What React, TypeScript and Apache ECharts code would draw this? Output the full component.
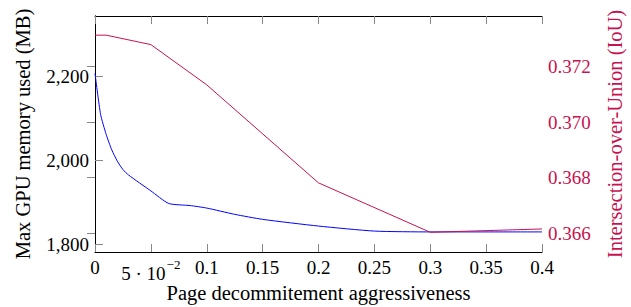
import React, { useEffect, useRef } from "react";
import * as echarts from "echarts";

const xTicks = [0, 0.05, 0.1, 0.15, 0.2, 0.25, 0.3, 0.35, 0.4];
const memTicks = [1800, 2000, 2200];
const iouTicks = [0.366, 0.368, 0.37, 0.372];

const memX = [0, 0.005, 0.01, 0.015, 0.02, 0.025, 0.03, 0.05, 0.066, 0.085, 0.1, 0.125, 0.15, 0.2, 0.25, 0.3, 0.4];
const memY = [2208, 2110, 2062, 2025, 1998, 1978, 1965, 1927, 1897, 1892, 1886, 1871, 1859, 1843, 1831, 1829, 1829];

const iouX = [0, 0.01, 0.05, 0.1, 0.2, 0.3, 0.4];
const iouY = [0.37313, 0.37313, 0.37279, 0.37134, 0.36781, 0.36603, 0.36615];

const RED = "#C8124F";
const FONT = "'Liberation Serif', serif";

export default function App() {
  const ref = useRef<HTMLDivElement>(null);
  useEffect(() => {
    document.body.style.margin = "0";
    const chart = echarts.init(ref.current!, null, { renderer: "svg" });
    const fmtX = (v: number) => {
      if (Math.abs(v - 0.05) < 1e-9) return "{d|5 · 10}{s|−2}";
      return String(Math.round(v * 100) / 100);
    };
    chart.setOption({
      animation: false,
      textStyle: { fontFamily: FONT },
      grid: { left: 95, right: 89, top: 16, bottom: 55, containLabel: false, outerBoundsMode: "none" },
      xAxis: [
        {
          type: "value",
          min: 0,
          max: 0.4,
          interval: 0.05,
          position: "bottom",
          name: "Page decommitement aggressiveness",
          nameLocation: "middle",
          nameGap: 30,
          nameMoveOverlap: false,
          nameTextStyle: { fontFamily: FONT, fontSize: 20.5, color: "#000" },
          axisLine: { show: true, lineStyle: { color: "#000", width: 1 } },
          axisTick: { show: true, inside: true, length: 8, lineStyle: { color: "#888" } },
          splitLine: { show: false },
          axisLabel: {
            formatter: fmtX,
            fontFamily: FONT,
            fontSize: 19,
            color: "#000",
            margin: 6,
            rich: {
              d: { fontFamily: FONT, fontSize: 19, color: "#000", padding: [6, 0, 0, 0] },
              s: { fontFamily: FONT, fontSize: 13, color: "#000", verticalAlign: "top", padding: [0, 0, 0, 1] },
            },
          },
        },
        {
          type: "value",
          min: 0,
          max: 0.4,
          interval: 0.05,
          position: "top",
          axisLine: { show: true, lineStyle: { color: "#000", width: 1 } },
          axisTick: { show: true, inside: true, length: 8, lineStyle: { color: "#888" } },
          axisLabel: { show: false },
          splitLine: { show: false },
        },
      ],
      yAxis: [
        {
          type: "value",
          min: 1781,
          max: 2345,
          position: "left",
          name: "Max GPU memory used (MB)",
          nameLocation: "middle",
          nameGap: 62,
          nameMoveOverlap: false,
          nameTextStyle: { fontFamily: FONT, fontSize: 20.5, color: "#000" },
          axisLine: { show: true, lineStyle: { color: "#000", width: 1 } },
          axisTick: { show: true, inside: true, length: 8, customValues: memTicks, lineStyle: { color: "#888" } },
          axisLabel: {
            customValues: memTicks,
            formatter: (v: number) => v.toLocaleString("en-US"),
            fontFamily: FONT,
            fontSize: 19,
            color: "#000",
            margin: 6,
          },
          splitLine: { show: false },
        },
        {
          type: "value",
          min: 0.36532,
          max: 0.37382,
          position: "right",
          name: "Intersection-over-Union (IoU)",
          nameLocation: "middle",
          nameGap: 62,
          nameMoveOverlap: false,
          nameRotate: 90,
          nameTextStyle: { fontFamily: FONT, fontSize: 20.5, color: RED },
          axisLine: { show: true, lineStyle: { color: "#000", width: 1 } },
          axisTick: { show: true, inside: true, length: 8, customValues: iouTicks, lineStyle: { color: "#888" } },
          axisLabel: {
            customValues: iouTicks,
            formatter: (v: number) => v.toFixed(3),
            fontFamily: FONT,
            fontSize: 19,
            color: RED,
            margin: 6,
          },
          splitLine: { show: false },
        },
      ],
      series: [
        {
          type: "line",
          xAxisIndex: 0,
          yAxisIndex: 0,
          data: memX.map((x, i) => [x, memY[i]]),
          showSymbol: false,
          symbol: "none",
          lineStyle: { color: "#0000ff", width: 1 },
          smooth: 0.2,
        },
        {
          type: "line",
          xAxisIndex: 0,
          yAxisIndex: 1,
          data: iouX.map((x, i) => [x, iouY[i]]),
          showSymbol: false,
          symbol: "none",
          lineStyle: { color: RED, width: 1 },
        },
      ],
    });
    return () => chart.dispose();
  }, []);
  return <div ref={ref} style={{ width: 631, height: 307 }} />;
}
